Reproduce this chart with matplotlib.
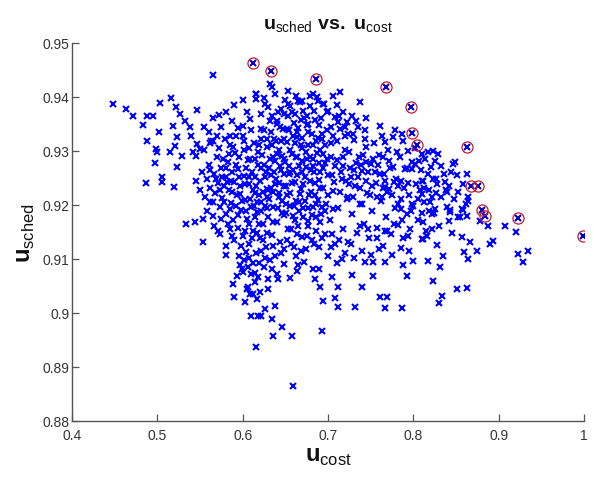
import matplotlib
matplotlib.use("Agg")
import matplotlib.pyplot as plt

plt.rcParams['font.family'] = ['Liberation Sans', 'DejaVu Sans']
plt.rcParams['mathtext.fontset'] = 'custom'
plt.rcParams['mathtext.rm'] = 'Liberation Sans'
plt.rcParams['mathtext.bf'] = 'Liberation Sans:bold'

# ---- data: all solutions (u_cost, u_sched) ----
pts = [
    # left tail
    (0.448, 0.9387), (0.463, 0.9377), (0.472, 0.9365), (0.4875, 0.9364), (0.495, 0.9365),
    (0.503, 0.9389), (0.516, 0.9398), (0.483, 0.9349), (0.502, 0.9336), (0.4875, 0.9318),
    (0.499, 0.9304), (0.500, 0.9298), (0.497, 0.9278), (0.487, 0.9240), (0.505, 0.9252),
    (0.505, 0.9243), (0.5195, 0.9233), (0.523, 0.9270), (0.565, 0.9440), (0.546, 0.9376),
    (0.572, 0.9367), (0.522, 0.9381), (0.5265, 0.9369), (0.532, 0.9356), (0.518, 0.9347),
    (0.538, 0.9345), (0.523, 0.9326), (0.540, 0.9328), (0.515, 0.9298), (0.5207, 0.9310),
    (0.5286, 0.9291), (0.546, 0.9313), (0.550, 0.9304), (0.542, 0.9298), (0.5617, 0.9315),
    (0.565, 0.9319), (0.585, 0.9328), (0.600, 0.9347), (0.609, 0.9359), (0.600, 0.9328),
    (0.616, 0.9406), (0.616, 0.9396),
    # lower left / vertical tail
    (0.534, 0.9165), (0.544, 0.9169), (0.554, 0.9174), (0.565, 0.9180), (0.554, 0.9132),
    (0.573, 0.9146), (0.581, 0.9125), (0.581, 0.9107), (0.589, 0.9054), (0.590, 0.9030),
    (0.603, 0.9020), (0.610, 0.8995), (0.6157, 0.8937), (0.618, 0.8995), (0.593, 0.9069),
    (0.600, 0.9076), (0.597, 0.9088), (0.605, 0.9044), (0.6086, 0.9035), (0.6165, 0.9026),
    (0.585, 0.9156), (0.587, 0.9143),
    (0.659, 0.8865), (0.6926, 0.8967), (0.6356, 0.8958), (0.6457, 0.8974), (0.6574, 0.8958),
    (0.622, 0.8995), (0.634, 0.8989), (0.638, 0.9013), (0.626, 0.9007), (0.620, 0.9039),
    (0.6297, 0.9044), (0.618, 0.9066), (0.6414, 0.9063), (0.6297, 0.9063), (0.634, 0.9081),
    (0.6633, 0.9078), (0.6824, 0.9081), (0.6848, 0.9063), (0.6906, 0.9048), (0.7043, 0.9066),
    (0.712, 0.9048), (0.694, 0.9023), (0.708, 0.9028), (0.7113, 0.9011), (0.7316, 0.9011),
    (0.7277, 0.9070), (0.7395, 0.9048), (0.716, 0.9100), (0.7434, 0.9094), (0.7528, 0.9094),
    (0.7668, 0.9094), (0.7528, 0.9069), (0.7610, 0.9030), (0.7688, 0.9030), (0.7668, 0.9009),
    (0.7863, 0.9009), (0.788, 0.9088), (0.7922, 0.9069), (0.7996, 0.9097), (0.6633, 0.9146),
    (0.7043, 0.9146), (0.7687, 0.9152), (0.7938, 0.9143), (0.8098, 0.9137),
    # right part
    (0.8215, 0.9183), (0.843, 0.9187), (0.8418, 0.9171), (0.8524, 0.9178), (0.8626, 0.9180),
    (0.8583, 0.9190), (0.878, 0.9171), (0.8875, 0.9162), (0.9074, 0.9161), (0.920, 0.9150),
    (0.9345, 0.9115), (0.9227, 0.9109), (0.9286, 0.9095), (0.8566, 0.9141), (0.8664, 0.9132),
    (0.8899, 0.9128), (0.8934, 0.9134), (0.8742, 0.9115), (0.8594, 0.9113), (0.8641, 0.9100),
    (0.8273, 0.9126), (0.8348, 0.9106), (0.8172, 0.9097), (0.8313, 0.9085), (0.8227, 0.9060),
    (0.8512, 0.9044), (0.8626, 0.9046), (0.8332, 0.9031), (0.830, 0.9019), (0.8115, 0.9168),
    (0.8115, 0.9137), (0.8157, 0.9143), (0.8215, 0.9156),
    (0.8172, 0.9298), (0.823, 0.9300), (0.829, 0.9294), (0.8137, 0.9285), (0.8254, 0.9282),
    (0.8488, 0.9280), (0.8465, 0.9276), (0.8626, 0.9257), (0.8172, 0.9257), (0.823, 0.9248),
    (0.8113, 0.9245), (0.8274, 0.9239), (0.837, 0.9243), (0.8078, 0.9227), (0.839, 0.9224),
    (0.8524, 0.9224), (0.864, 0.9215), (0.864, 0.9208), (0.8215, 0.9215), (0.8195, 0.9206),
    (0.8254, 0.9193), (0.843, 0.9190), (0.8566, 0.9193),
    # upper region
    (0.632, 0.9424), (0.634, 0.9419), (0.653, 0.9411), (0.616, 0.9406), (0.6262, 0.9387),
    (0.630, 0.9382), (0.653, 0.9387), (0.6648, 0.9393), (0.6824, 0.9406), (0.6867, 0.9400),
    (0.706, 0.9402), (0.714, 0.9409), (0.7375, 0.9391), (0.622, 0.9369), (0.634, 0.9365),
    (0.653, 0.9365), (0.6613, 0.9369), (0.6707, 0.9375), (0.679, 0.9384), (0.694, 0.9387),
    (0.6984, 0.9372), (0.708, 0.9363), (0.722, 0.9354), (0.7352, 0.9345), (0.761, 0.9347),
    (0.7786, 0.9338), (0.7863, 0.9331), (0.622, 0.9341), (0.6399, 0.9350), (0.6516, 0.9341),
    (0.6633, 0.9335), (0.6766, 0.9350), (0.6926, 0.9331), (0.712, 0.9354), (0.706, 0.9328),
    (0.720, 0.9328), (0.7293, 0.9331), (0.7434, 0.9322), (0.763, 0.9328), (0.7668, 0.9317),
    (0.776, 0.9326), (0.788, 0.9319), (0.7938, 0.9300), (0.8098, 0.9294), (0.802, 0.9276),
    (0.798, 0.9267), (0.810, 0.9245), (0.810, 0.9220), (0.782, 0.9236), (0.7668, 0.9233),
    (0.763, 0.9215), (0.782, 0.9202), (0.798, 0.9202), (0.6926, 0.9196), (0.706, 0.9193),
    (0.7395, 0.9202), (0.7234, 0.9215), (0.628, 0.9230),
    # core A
    (0.545, 0.9245), (0.550, 0.9228), (0.552, 0.9262), (0.556, 0.9215), (0.558, 0.9248),
    (0.560, 0.9275), (0.562, 0.9232), (0.565, 0.9205), (0.566, 0.9258), (0.568, 0.9222),
    (0.570, 0.9288), (0.571, 0.9241), (0.573, 0.9196), (0.575, 0.9268), (0.576, 0.9213),
    (0.578, 0.9235), (0.580, 0.9252), (0.581, 0.9183), (0.583, 0.9279), (0.584, 0.9227),
    (0.586, 0.9204), (0.587, 0.9261), (0.589, 0.9172), (0.590, 0.9243), (0.591, 0.9296),
    (0.593, 0.9218), (0.594, 0.9158), (0.595, 0.9266), (0.597, 0.9236), (0.598, 0.9191),
    (0.600, 0.9142), (0.601, 0.9254), (0.602, 0.9302), (0.603, 0.9209), (0.605, 0.9175),
    (0.606, 0.9283), (0.607, 0.9127), (0.608, 0.9238), (0.610, 0.9196), (0.611, 0.9262),
    (0.612, 0.9151), (0.613, 0.9315), (0.615, 0.9222), (0.616, 0.9112), (0.617, 0.9187),
    (0.618, 0.9274), (0.620, 0.9138), (0.620, 0.9245), (0.545, 0.9290), (0.555, 0.9302),
    (0.563, 0.9318), (0.572, 0.9305), (0.579, 0.9322), (0.585, 0.9311), (0.592, 0.9328),
    # core B
    (0.622, 0.9205), (0.623, 0.9292), (0.624, 0.9164), (0.625, 0.9338), (0.626, 0.9251),
    (0.627, 0.9123), (0.628, 0.9214), (0.629, 0.9308), (0.630, 0.9177), (0.631, 0.9269),
    (0.632, 0.9356), (0.633, 0.9232), (0.634, 0.9145), (0.635, 0.9288), (0.636, 0.9196),
    (0.637, 0.9322), (0.638, 0.9105), (0.639, 0.9248), (0.640, 0.9168), (0.641, 0.9372),
    (0.642, 0.9215), (0.643, 0.9302), (0.644, 0.9131), (0.645, 0.9264), (0.646, 0.9185),
    (0.647, 0.9341), (0.648, 0.9235), (0.649, 0.9118), (0.650, 0.9279), (0.651, 0.9202),
    (0.652, 0.9316), (0.653, 0.9156), (0.654, 0.9257), (0.655, 0.9384), (0.656, 0.9222),
    (0.657, 0.9128), (0.658, 0.9295), (0.659, 0.9179), (0.660, 0.9352), (0.661, 0.9243),
    (0.662, 0.9105), (0.663, 0.9208), (0.664, 0.9326), (0.665, 0.9162), (0.666, 0.9273),
    (0.667, 0.9391), (0.668, 0.9229), (0.669, 0.9141), (0.670, 0.9305), (0.671, 0.9194),
    (0.672, 0.9362), (0.673, 0.9252), (0.674, 0.9118), (0.675, 0.9286), (0.676, 0.9171),
    (0.677, 0.9335), (0.678, 0.9218), (0.679, 0.9402), (0.680, 0.9265), (0.681, 0.9136),
    (0.682, 0.9312), (0.683, 0.9197), (0.684, 0.9374), (0.685, 0.9241), (0.686, 0.9152),
    (0.687, 0.9296), (0.688, 0.9209), (0.689, 0.9348), (0.690, 0.9123), (0.691, 0.9261),
    (0.692, 0.9183), (0.693, 0.9322), (0.694, 0.9232), (0.695, 0.9387), (0.696, 0.9147),
    (0.697, 0.9278), (0.698, 0.9201), (0.699, 0.9339), (0.700, 0.9255),
    (0.625, 0.9275), (0.638, 0.9282), (0.645, 0.9318), (0.655, 0.9262), (0.662, 0.9288),
    (0.668, 0.9312), (0.674, 0.9271), (0.683, 0.9285), (0.691, 0.9302), (0.630, 0.9228),
    (0.642, 0.9241), (0.651, 0.9236), (0.660, 0.9198), (0.671, 0.9238), (0.680, 0.9225),
    (0.689, 0.9246), (0.635, 0.9168), (0.648, 0.9182), (0.657, 0.9155), (0.666, 0.9189),
    (0.677, 0.9162), (0.686, 0.9178),
    # core C
    (0.702, 0.9172), (0.704, 0.9315), (0.706, 0.9226), (0.708, 0.9128), (0.710, 0.9283),
    (0.712, 0.9195), (0.714, 0.9341), (0.716, 0.9248), (0.718, 0.9156), (0.720, 0.9302),
    (0.722, 0.9211), (0.724, 0.9132), (0.726, 0.9268), (0.728, 0.9183), (0.730, 0.9321),
    (0.732, 0.9236), (0.734, 0.9148), (0.736, 0.9289), (0.738, 0.9202), (0.740, 0.9263),
    (0.742, 0.9165), (0.744, 0.9308), (0.746, 0.9222), (0.748, 0.9138), (0.750, 0.9276),
    (0.752, 0.9189), (0.754, 0.9315), (0.756, 0.9241), (0.758, 0.9158), (0.760, 0.9292),
    (0.762, 0.9207), (0.764, 0.9125), (0.766, 0.9258), (0.768, 0.9178), (0.770, 0.9302),
    (0.772, 0.9229), (0.774, 0.9146), (0.776, 0.9271), (0.778, 0.9195), (0.780, 0.9249),
    (0.782, 0.9163), (0.784, 0.9288), (0.786, 0.9212), (0.788, 0.9138), (0.790, 0.9266),
    (0.792, 0.9183), (0.794, 0.9241), (0.796, 0.9156), (0.798, 0.9279), (0.800, 0.9198),
    (0.705, 0.9255), (0.715, 0.9262), (0.725, 0.9238), (0.735, 0.9251), (0.745, 0.9279),
    (0.755, 0.9262), (0.765, 0.9232), (0.775, 0.9218), (0.785, 0.9245), (0.795, 0.9218),
    (0.703, 0.9345), (0.713, 0.9365), (0.723, 0.9332), (0.733, 0.9355), (0.743, 0.9338),
    # core D
    (0.803, 0.9238), (0.806, 0.9172), (0.809, 0.9265), (0.812, 0.9205), (0.815, 0.9152),
    (0.818, 0.9228), (0.821, 0.9271), (0.824, 0.9185), (0.827, 0.9248), (0.830, 0.9162),
    (0.833, 0.9215), (0.836, 0.9258), (0.839, 0.9196), (0.842, 0.9235), (0.845, 0.9148),
    (0.848, 0.9212), (0.851, 0.9255), (0.855, 0.9178), (0.858, 0.9238), (0.862, 0.9202),
    # lower main band
    (0.625, 0.9085), (0.632, 0.9098), (0.640, 0.9072), (0.648, 0.9091), (0.655, 0.9065),
    (0.665, 0.9088), (0.672, 0.9095), (0.690, 0.9082), (0.700, 0.9105), (0.710, 0.9092),
    (0.720, 0.9112), (0.730, 0.9101), (0.740, 0.9115), (0.750, 0.9108), (0.760, 0.9118),
    (0.775, 0.9108), (0.785, 0.9121), (0.795, 0.9115),
    # dense vertical streak near 0.60-0.63
    (0.598, 0.9125), (0.601, 0.9098), (0.604, 0.9113), (0.606, 0.9085), (0.608, 0.9102),
    (0.610, 0.9072), (0.612, 0.9093), (0.614, 0.9058), (0.603, 0.9152), (0.607, 0.9165),
    (0.611, 0.9138), (0.614, 0.9178), (0.617, 0.9148), (0.619, 0.9165), (0.596, 0.9105),
    (0.599, 0.9082), (0.606, 0.9048), (0.612, 0.9035), (0.615, 0.9075), (0.619, 0.9092),
    (0.622, 0.9115), (0.624, 0.9135), (0.626, 0.9102), (0.628, 0.9148), (0.604, 0.9188),
    (0.609, 0.9212), (0.613, 0.9198), (0.616, 0.9235), (0.619, 0.9218), (0.621, 0.9268),
    # more core
    (0.562, 0.9265), (0.569, 0.9248), (0.574, 0.9228), (0.577, 0.9285), (0.582, 0.9242),
    (0.588, 0.9225), (0.592, 0.9275), (0.596, 0.9252), (0.599, 0.9208), (0.604, 0.9268),
    (0.609, 0.9285), (0.614, 0.9252), (0.618, 0.9298), (0.621, 0.9322), (0.624, 0.9225),
    (0.627, 0.9262), (0.629, 0.9195), (0.632, 0.9285), (0.634, 0.9312), (0.637, 0.9262),
    (0.640, 0.9295), (0.643, 0.9222), (0.646, 0.9291), (0.649, 0.9258), (0.652, 0.9218),
    (0.655, 0.9302), (0.658, 0.9241), (0.661, 0.9315), (0.664, 0.9255), (0.667, 0.9221),
    (0.670, 0.9282), (0.673, 0.9208), (0.676, 0.9312), (0.679, 0.9245), (0.682, 0.9272),
    (0.685, 0.9218), (0.688, 0.9325), (0.691, 0.9232), (0.694, 0.9268), (0.697, 0.9312),
    (0.700, 0.9218), (0.703, 0.9288), (0.707, 0.9242), (0.711, 0.9318), (0.714, 0.9225),
    (0.718, 0.9272), (0.721, 0.9245), (0.725, 0.9298), (0.729, 0.9215), (0.733, 0.9278),
    (0.737, 0.9232), (0.741, 0.9292), (0.745, 0.9245), (0.749, 0.9218), (0.753, 0.9285),
    (0.757, 0.9215), (0.761, 0.9258), (0.765, 0.9288), (0.769, 0.9225), (0.773, 0.9268),
    (0.777, 0.9242), (0.781, 0.9298), (0.785, 0.9192), (0.789, 0.9232), (0.793, 0.9268),
    # more upper band
    (0.625, 0.9398), (0.638, 0.9405), (0.645, 0.9378), (0.650, 0.9395), (0.658, 0.9372),
    (0.662, 0.9402), (0.670, 0.9392), (0.675, 0.9365), (0.688, 0.9392), (0.692, 0.9362),
    (0.700, 0.9375), (0.710, 0.9385), (0.718, 0.9372), (0.728, 0.9365), (0.640, 0.9355),
    (0.648, 0.9368), (0.668, 0.9358), (0.685, 0.9358), (0.720, 0.9345), (0.745, 0.9362),
    # more left-middle
    (0.555, 0.9345), (0.565, 0.9362), (0.575, 0.9345), (0.580, 0.9372), (0.588, 0.9355),
    (0.590, 0.9385), (0.595, 0.9342), (0.605, 0.9372), (0.610, 0.9338), (0.600, 0.9395),
    (0.560, 0.9335), (0.570, 0.9328),
    # more lower-middle
    (0.636, 0.9125), (0.645, 0.9112), (0.652, 0.9135), (0.660, 0.9122), (0.668, 0.9115),
    (0.675, 0.9142), (0.684, 0.9128), (0.693, 0.9138), (0.703, 0.9122), (0.713, 0.9135),
    (0.727, 0.9128), (0.737, 0.9162), (0.747, 0.9155), (0.757, 0.9138), (0.767, 0.9152),
    (0.777, 0.9165), (0.787, 0.9172), (0.797, 0.9188),
    (0.558, 0.9188), (0.566, 0.9162), (0.575, 0.9175), (0.583, 0.9165), (0.590, 0.9135),
    (0.595, 0.9182), (0.571, 0.9152), (0.562, 0.9205),
    # more right
    (0.802, 0.9305), (0.807, 0.9282), (0.813, 0.9232), (0.818, 0.9188), (0.826, 0.9222),
    (0.832, 0.9272), (0.838, 0.9228), (0.844, 0.9262), (0.805, 0.9212), (0.810, 0.9185),
    # densest centre fill
    (0.578, 0.9205), (0.585, 0.9192), (0.592, 0.9198), (0.597, 0.9221), (0.603, 0.9238),
    (0.607, 0.9251), (0.612, 0.9228), (0.617, 0.9205), (0.622, 0.9188), (0.626, 0.9198),
    (0.631, 0.9211), (0.636, 0.9225), (0.641, 0.9195), (0.646, 0.9208), (0.651, 0.9185),
    (0.656, 0.9198), (0.661, 0.9172), (0.666, 0.9205), (0.671, 0.9178), (0.676, 0.9195),
    (0.681, 0.9182), (0.686, 0.9202), (0.691, 0.9168), (0.696, 0.9189), (0.633, 0.9255),
    (0.638, 0.9238), (0.644, 0.9272), (0.649, 0.9285), (0.654, 0.9272), (0.659, 0.9265),
    (0.664, 0.9289), (0.669, 0.9262), (0.674, 0.9298), (0.679, 0.9288), (0.684, 0.9262),
    (0.689, 0.9278), (0.694, 0.9295), (0.699, 0.9285), (0.628, 0.9322), (0.633, 0.9335),
    (0.639, 0.9318), (0.644, 0.9345), (0.649, 0.9322), (0.654, 0.9338), (0.659, 0.9328),
    (0.665, 0.9342), (0.67, 0.9325), (0.675, 0.9348), (0.681, 0.9332), (0.686, 0.9318),
    (0.708, 0.9272), (0.717, 0.9288), (0.727, 0.9252), (0.731, 0.9265), (0.739, 0.9275),
    (0.747, 0.9262), (0.751, 0.9235), (0.759, 0.9275), (0.767, 0.9245), (0.771, 0.9282),
    (0.584, 0.9295), (0.589, 0.9308), (0.596, 0.9288), (0.601, 0.9318), (0.607, 0.9305),
    (0.614, 0.9285), (0.619, 0.9312), (0.576, 0.9251), (0.581, 0.9268), (0.586, 0.9245),
]
u_cost = [p[0] for p in pts]
u_sched = [p[1] for p in pts]

# non-dominated solutions (circled)
pareto_cost = [0.612, 0.633, 0.686, 0.768, 0.797, 0.798, 0.804, 0.863, 0.868, 0.876,
               0.880, 0.884, 0.923, 0.999]
pareto_sched = [0.9463, 0.9448, 0.9433, 0.9419, 0.9381, 0.9333, 0.9311, 0.9307, 0.9235,
                0.9235, 0.9191, 0.9180, 0.9176, 0.9143]

xticks = [0.4, 0.5, 0.6, 0.7, 0.8, 0.9, 1.0]
xticklabels = ['0.4', '0.5', '0.6', '0.7', '0.8', '0.9', '1']
yticks = [0.88, 0.89, 0.90, 0.91, 0.92, 0.93, 0.94, 0.95]
yticklabels = ['0.88', '0.89', '0.9', '0.91', '0.92', '0.93', '0.94', '0.95']

fig = plt.figure(figsize=(5.94, 4.85), dpi=100)
ax = fig.add_axes([72/594, 1-422/485, 512/594, 378/485])

ax.plot(u_cost, u_sched, linestyle='none', marker='x', color=(0, 0, 1),
        markersize=4.5, markeredgewidth=1.5)
ax.plot(pareto_cost, pareto_sched, linestyle='none', marker='x', color=(0, 0, 0.8),
        markersize=4.5, markeredgewidth=1.5)
ax.plot(pareto_cost, pareto_sched, linestyle='none', marker='o', markerfacecolor='none',
        markeredgecolor=(0.75, 0.1, 0.2), markersize=8, markeredgewidth=0.9)

ax.set_xlim(0.4, 1.0)
ax.set_ylim(0.88, 0.95)
ax.set_xticks(xticks)
ax.set_xticklabels(xticklabels)
ax.set_yticks(yticks)
ax.set_yticklabels(yticklabels)
for s in ['top', 'right']:
    ax.spines[s].set_visible(False)
for s in ['left', 'bottom']:
    ax.spines[s].set_color('#555555')
    ax.spines[s].set_linewidth(1.0)
ax.tick_params(direction='in', length=5, width=0.9, colors='#555555',
               labelcolor='#333333', labelsize=10)
ax.tick_params(axis='x', pad=5)
ax.tick_params(axis='y', pad=2)

ax.set_title(r'$\mathbf{u}_{\mathrm{sched}}$' + ' ' + r'$\mathbf{vs.}$' + ' ' +
             r'$\mathbf{u}_{\mathrm{cost}}$', fontsize=14, pad=10, color='#111111')
ax.set_xlabel(r'$\mathbf{u}_{\mathrm{cost}}$', fontsize=17, labelpad=2, color='#111111')
ax.set_ylabel(r'$\mathbf{u}_{\mathrm{sched}}$', fontsize=17, labelpad=4, color='#111111')

fig.savefig('out.png', dpi=100)
